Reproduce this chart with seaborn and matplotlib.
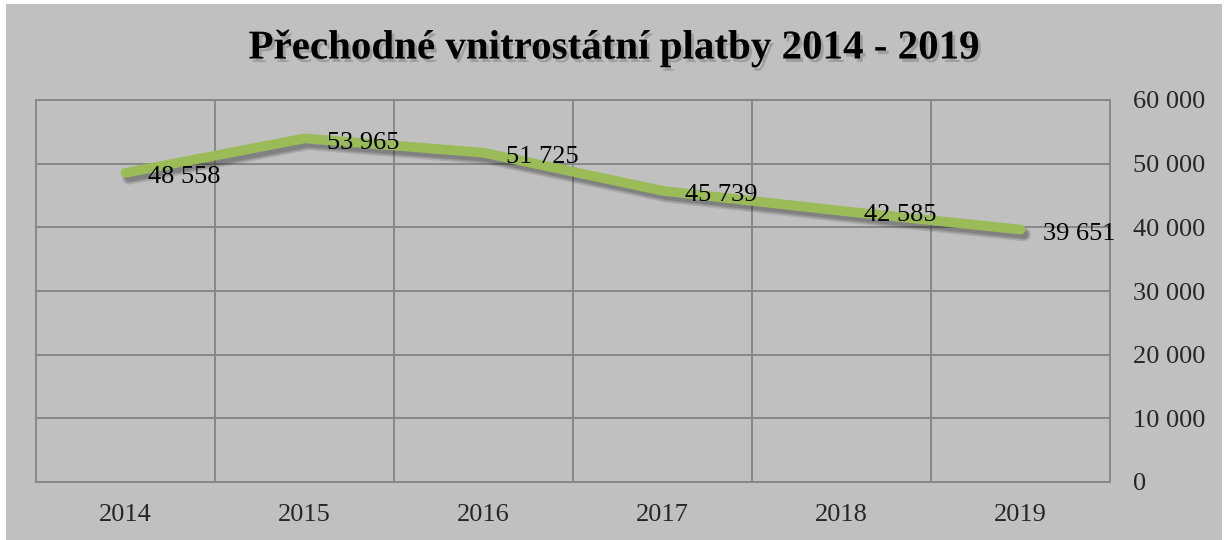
import matplotlib
matplotlib.use("Agg")
import matplotlib.pyplot as plt
import matplotlib.patheffects as pe
from matplotlib.patches import Rectangle
import seaborn as sns
import pandas as pd
import numpy as np

years = ["2014", "2015", "2016", "2017", "2018", "2019"]
values = [48558, 53965, 51725, 45739, 42585, 39651]
y_ticks = [0, 10000, 20000, 30000, 40000, 50000, 60000]
title = "Přechodné vnitrostátní platby 2014 - 2019"

def fmt(v):
    return f"{v:,}".replace(",", " ")

sns.set_theme(style="white")
plt.rcParams['font.family'] = ['Liberation Serif', 'DejaVu Serif']

BG = "#c0c0c0"
GRID = "#878787"
LINE = "#9bbb59"

fig = plt.figure(figsize=(12.28, 5.4), dpi=100, facecolor="white")
fig.patches.append(Rectangle((6/1228, 0), 1216/1228, 1 - 4/540,
                             transform=fig.transFigure, facecolor=BG,
                             edgecolor="none", zorder=-10))

ax = fig.add_axes([36/1228, 1 - 482/540, 1074/1228, 382/540])
ax.set_facecolor(BG)

shadow = [pe.SimpleLineShadow(offset=(2.5, -3.5), shadow_color="black", alpha=0.10, linewidth=10),
          pe.SimpleLineShadow(offset=(2.5, -3.5), shadow_color="black", alpha=0.12, linewidth=8),
          pe.SimpleLineShadow(offset=(2.5, -3.5), shadow_color="black", alpha=0.14, linewidth=6),
          pe.Normal()]

df = pd.DataFrame({"pos": np.arange(len(years)), "value": values})
sns.lineplot(data=df, x="pos", y="value", ax=ax, color=LINE, linewidth=7,
             solid_capstyle="round", solid_joinstyle="round", zorder=3,
             path_effects=shadow)

ax.set_xlim(-0.5, len(years) - 0.5)
ax.set_ylim(y_ticks[0], y_ticks[-1])
ax.set_xticks(np.arange(len(years)))
ax.set_xticklabels(years, fontsize=19)
ax.set_xticks(np.arange(len(years) - 1) + 0.5, minor=True)
ax.set_yticks(y_ticks)
ax.set_yticklabels([fmt(t) for t in y_ticks], fontsize=19, ha="left")
ax.yaxis.tick_right()
ax.tick_params(axis="y", which="both", length=0, pad=16.5)
ax.tick_params(axis="x", which="both", length=0, pad=16)
ax.set_xlabel("")
ax.set_ylabel("")
ax.grid(True, axis="y", which="major", color=GRID, linewidth=1.4)
ax.grid(True, axis="x", which="minor", color=GRID, linewidth=1.4)
ax.grid(False, axis="x", which="major")
for s in ax.spines.values():
    s.set_color(GRID)
    s.set_linewidth(1.4)

for i, v in enumerate(values):
    ax.annotate(fmt(v), (i, v), xytext=(16, -3), textcoords="offset points",
                ha="left", va="center", fontsize=19, color="black", zorder=5)

fig.text(0.5, 1 - 49/540, title, ha="center", va="center", fontsize=29.5,
         fontweight="bold", color="black",
         path_effects=[pe.withSimplePatchShadow(offset=(2, -2.5), shadow_rgbFace="#505050", alpha=0.3)])

fig.savefig("out.png", dpi=100, facecolor="white")
